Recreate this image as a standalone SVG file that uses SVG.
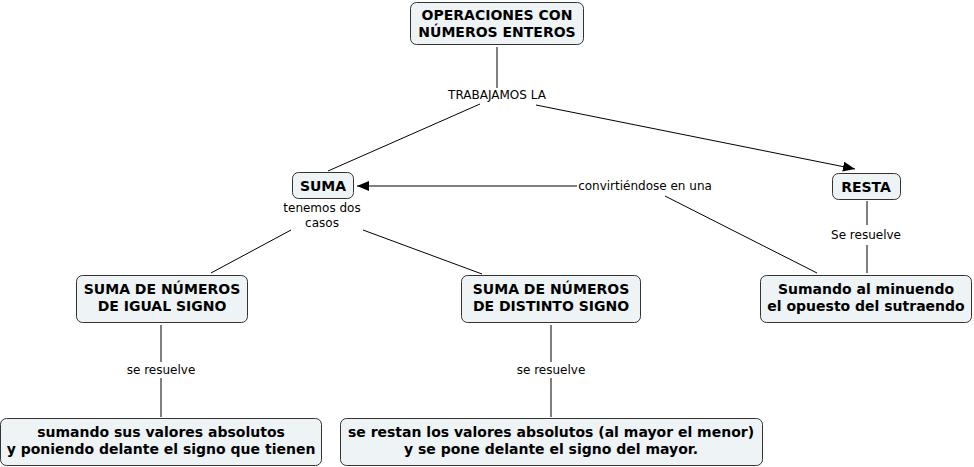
<svg xmlns="http://www.w3.org/2000/svg" width="974" height="467" viewBox="0 0 974 467">
<style>
.node rect{fill:#eef3f5;stroke:#333333;stroke-width:1}
.node text{font-family:"DejaVu Sans",Verdana,sans-serif;font-weight:bold;font-size:14px;fill:#000;text-anchor:middle}
.lbl{font-family:"DejaVu Sans",Verdana,sans-serif;font-size:12px;fill:#000;text-anchor:middle}
.conn line{stroke:#000;stroke-width:1}
</style>
<defs>
<marker id="arr" viewBox="0 0 12 10" refX="12" refY="5" markerWidth="12" markerHeight="10" markerUnits="userSpaceOnUse" orient="auto">
<path d="M0,0 L12,5 L0,10 Z" fill="#000"/>
</marker>
</defs>
<rect width="974" height="467" fill="#ffffff"/>
<g id="connectors" class="conn">
<line x1="497" y1="47" x2="497" y2="88"/>
<line x1="480" y1="104" x2="328" y2="171"/>
<line x1="536" y1="105" x2="855" y2="169" marker-end="url(#arr)"/>
<line x1="577" y1="186" x2="357" y2="186" marker-end="url(#arr)"/>
<line x1="665" y1="196" x2="817" y2="273"/>
<line x1="867" y1="201" x2="867" y2="225"/>
<line x1="867" y1="245" x2="867" y2="273"/>
<line x1="291" y1="230" x2="211" y2="273"/>
<line x1="363" y1="230" x2="482" y2="274"/>
<line x1="161" y1="325" x2="161" y2="362"/>
<line x1="161" y1="378" x2="161" y2="417"/>
<line x1="551" y1="325" x2="551" y2="362"/>
<line x1="551" y1="378" x2="551" y2="417"/>
</g>
<g id="labels">
<text class="lbl" x="497" y="99">TRABAJAMOS LA</text>
<text class="lbl" x="645" y="190">convirtiéndose en una</text>
<text class="lbl" x="866" y="239">Se resuelve</text>
<text class="lbl" x="322" y="212">tenemos dos</text>
<text class="lbl" x="322" y="227">casos</text>
<text class="lbl" x="161" y="374">se resuelve</text>
<text class="lbl" x="551" y="374">se resuelve</text>
</g>
<g id="n-operaciones" class="node">
<rect x="410.5" y="2.5" width="173" height="42" rx="6"/>
<text x="497" y="20">OPERACIONES CON</text>
<text x="497" y="37">NÚMEROS ENTEROS</text>
</g>
<g id="n-suma" class="node">
<rect x="292.5" y="172.5" width="61" height="26" rx="6"/>
<text x="323" y="191">SUMA</text>
</g>
<g id="n-resta" class="node">
<rect x="832.5" y="173.5" width="68" height="26" rx="6"/>
<text x="866" y="192">RESTA</text>
</g>
<g id="n-sumando" class="node">
<rect x="760.5" y="275.5" width="211" height="47" rx="6"/>
<text x="866" y="294">Sumando al minuendo</text>
<text x="866" y="311">el opuesto del sutraendo</text>
</g>
<g id="n-igual" class="node">
<rect x="76.5" y="275.5" width="171" height="47" rx="6"/>
<text x="162" y="294">SUMA DE NÚMEROS</text>
<text x="162" y="311">DE IGUAL SIGNO</text>
</g>
<g id="n-distinto" class="node">
<rect x="461.5" y="275.5" width="179" height="47" rx="6"/>
<text x="551" y="294">SUMA DE NÚMEROS</text>
<text x="551" y="311">DE DISTINTO SIGNO</text>
</g>
<g id="n-sumando-abs" class="node">
<rect x="0.5" y="418.5" width="321" height="47" rx="6"/>
<text x="161" y="437">sumando sus valores absolutos</text>
<text x="161" y="454">y poniendo delante el signo que tienen</text>
</g>
<g id="n-restan" class="node">
<rect x="340.5" y="418.5" width="422" height="47" rx="6"/>
<text x="551" y="437">se restan los valores absolutos (al mayor el menor)</text>
<text x="551" y="454">y se pone delante el signo del mayor.</text>
</g>
</svg>
